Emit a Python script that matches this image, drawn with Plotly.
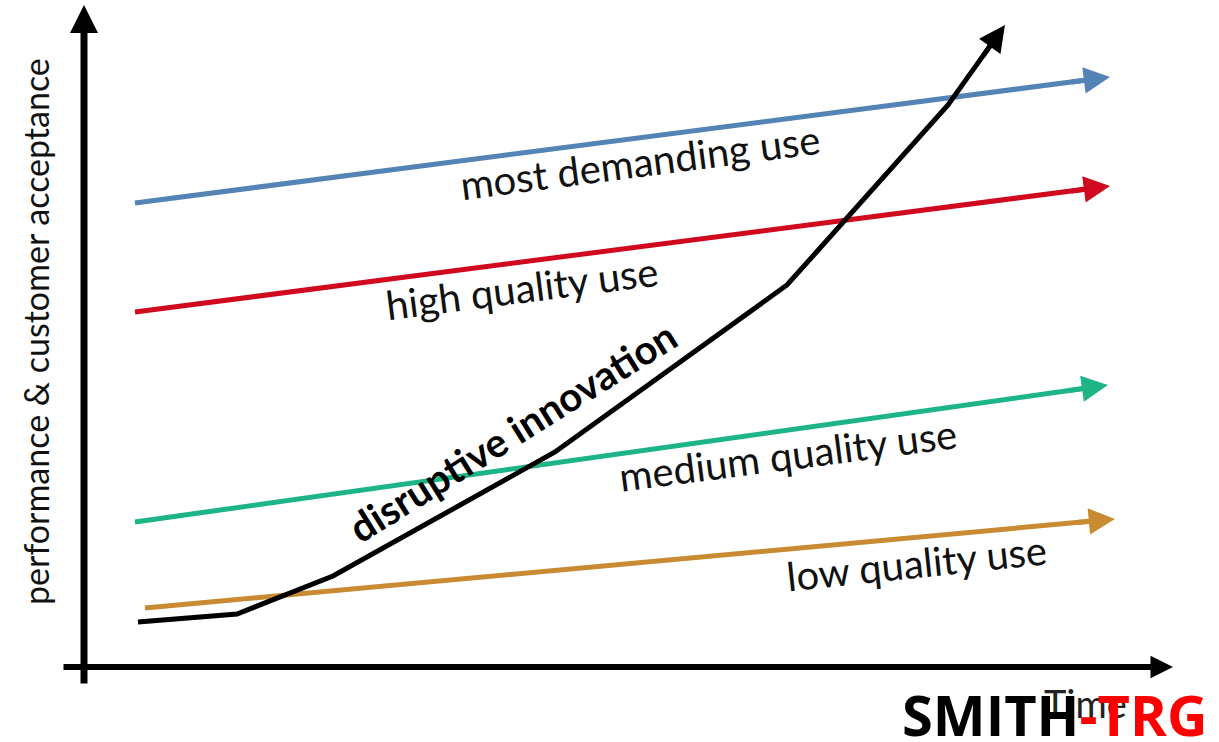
import numpy as np
import plotly.graph_objects as go

# Horizontal axis = time, vertical axis = performance / customer acceptance
# Quality-demand trajectories (start point, arrow tip)
blue_time = [135, 1110]
blue_perf = [539, 665]
red_time = [135, 1110]
red_perf = [430, 556]
green_time = [135, 1108]
green_perf = [220, 357]
orange_time = [145, 1115]
orange_perf = [134, 223]

# Disruptive innovation trajectory
disrupt_time = [138, 237, 333, 555, 787, 948, 1005]
disrupt_perf = [120, 128, 166, 290, 457, 637, 717]

series = [
    ("most demanding use", blue_time, blue_perf, "#5483B5", 5),
    ("high quality use", red_time, red_perf, "#D0091E", 5),
    ("medium quality use", green_time, green_perf, "#1DB487", 5),
    ("low quality use", orange_time, orange_perf, "#C98B32", 5),
    ("disruptive innovation", disrupt_time, disrupt_perf, "#000000", 5),
]

W, H = 1219, 742
fig = go.Figure()
annotations = []

for name, xs, ys, color, width in series:
    xs = np.asarray(xs, dtype=float)
    ys = np.asarray(ys, dtype=float)
    # pull the drawn line back slightly so the arrowhead owns the tip
    d = np.array([xs[-1] - xs[-2], ys[-1] - ys[-2]])
    u = d / np.linalg.norm(d)
    lx = np.append(xs[:-1], xs[-1] - u[0] * 14)
    ly = np.append(ys[:-1], ys[-1] - u[1] * 14)
    fig.add_trace(go.Scatter(
        x=lx, y=ly, mode="lines", name=name,
        line=dict(color=color, width=width), hoverinfo="skip",
    ))
    annotations.append(dict(
        x=xs[-1], y=ys[-1], ax=xs[-1] - u[0] * 40, ay=ys[-1] - u[1] * 40,
        xref="x", yref="y", axref="x", ayref="y", text="",
        showarrow=True, arrowhead=2, arrowsize=1.05, arrowwidth=width,
        arrowcolor=color,
    ))

# Axis arrows
annotations.append(dict(x=84, y=737, ax=84, ay=57, xref="x", yref="y",
                        axref="x", ayref="y", text="", showarrow=True,
                        arrowhead=2, arrowsize=0.8, arrowwidth=7,
                        arrowcolor="#000000"))
annotations.append(dict(x=1173, y=75, ax=62, ay=75, xref="x", yref="y",
                        axref="x", ayref="y", text="", showarrow=True,
                        arrowhead=2, arrowsize=0.75, arrowwidth=6,
                        arrowcolor="#000000"))

label_font = dict(family="Lato, sans-serif", size=40, color="#111111")

def label(text, x, y, angle, font):
    annotations.append(dict(x=x, y=y, xref="x", yref="y", text=text,
                            showarrow=False, textangle=angle,
                            xanchor="center", yanchor="middle", font=font))

label("most demanding use", 640, 742 - 162, -7.4, label_font)
label("high quality use", 522, 742 - 288, -7.3, label_font)
label("medium quality use", 788, 742 - 455, -7.4, label_font)
label("low quality use", 916, 742 - 563, -6.0, label_font)
label("<b>disruptive innovation</b>", 512, 742 - 432, -32,
      dict(family="Lato, sans-serif", size=40, color="#000000"))
label("performance & customer acceptance", 35, 742 - 332, -90,
      dict(family="Lato, sans-serif", size=34, color="#111111"))
label("Time", 1085, 742 - 703, 0,
      dict(family="Lato, sans-serif", size=38, color="#222222"))
label("<b>SMITH<span style='color:#FF0000'>-TRG</span></b>", 1054, 742 - 714, 0,
      dict(family="Open Sans, sans-serif", size=56, color="#000000"))

fig.update_layout(
    width=W, height=H,
    margin=dict(l=0, r=0, t=0, b=0),
    paper_bgcolor="white", plot_bgcolor="white",
    showlegend=False,
    xaxis=dict(range=[0, W], visible=False, fixedrange=True),
    yaxis=dict(range=[0, H], visible=False, fixedrange=True),
    annotations=annotations,
)

fig.write_html("out.html")
